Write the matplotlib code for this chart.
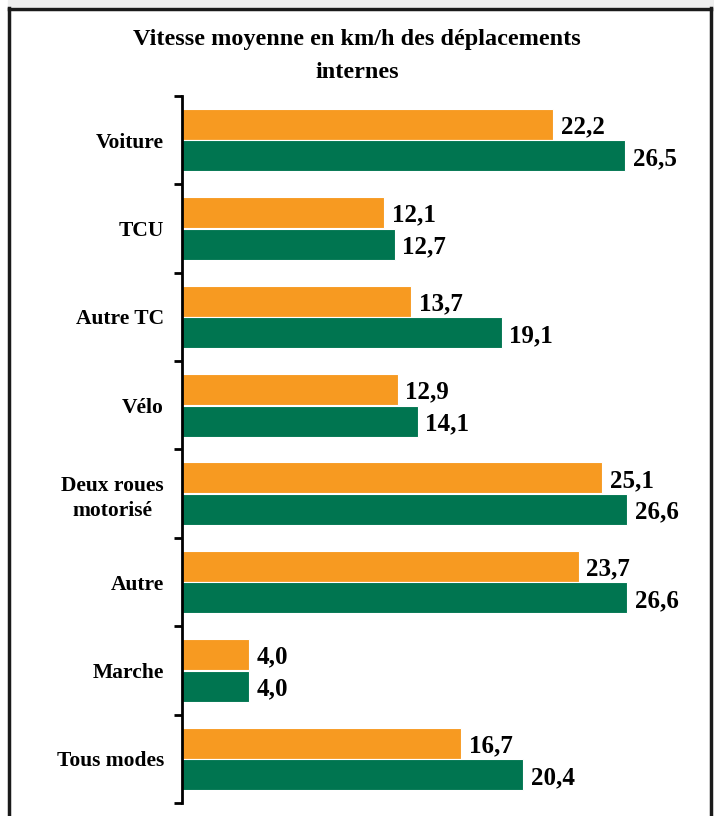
import numpy as np
import matplotlib.pyplot as plt
from matplotlib.lines import Line2D
from matplotlib.patches import Rectangle

categories = ['Voiture', 'TCU', 'Autre TC', 'Vélo', 'Deux roues\nmotorisé',
              'Autre', 'Marche', 'Tous modes']
serie_orange = [22.2, 12.1, 13.7, 12.9, 25.1, 23.7, 4.0, 16.7]
serie_verte = [26.5, 12.7, 19.1, 14.1, 26.6, 26.6, 4.0, 20.4]
titre = 'Vitesse moyenne en km/h des déplacements\ninternes'

orange = '#F79A21'
vert = '#007550'
police = 'Liberation Serif'

W, H = 714, 816
fig = plt.figure(figsize=(W / 100, H / 100), dpi=100)

# axes placed in pixel terms
x0, x1 = 182, 684
y_top, y_bot = 96, 803
ax = fig.add_axes([x0 / W, 1 - y_bot / H, (x1 - x0) / W, (y_bot - y_top) / H])

y = np.arange(len(categories))
h = 0.35
ax.barh(y - 0.178, serie_orange, height=h, color=orange, edgecolor='white', linewidth=0.8)
ax.barh(y + 0.178, serie_verte, height=h, color=vert, edgecolor='white', linewidth=0.8)

fmt = lambda v: f'{v:.1f}'.replace('.', ',')
for i in range(len(categories)):
    ax.text(serie_orange[i] + 0.45, y[i] - 0.15, fmt(serie_orange[i]), va='center', ha='left',
            fontsize=18, fontweight='bold', family=police)
    ax.text(serie_verte[i] + 0.45, y[i] + 0.21, fmt(serie_verte[i]), va='center', ha='left',
            fontsize=18, fontweight='bold', family=police)

ax.set_xlim(0, 30)
ax.set_ylim(len(categories) - 0.5, -0.5)
ax.set_xticks([])
ax.set_yticks(y)
ax.set_yticklabels(categories, fontsize=15.5, fontweight='bold', family=police,
                   multialignment='center', linespacing=1.3)
ax.set_yticks(np.arange(-0.5, len(categories), 1), minor=True)
ax.tick_params(axis='y', which='major', length=0, pad=13)
ax.tick_params(axis='y', which='minor', length=6, width=2, direction='out')
for s in ['top', 'right', 'bottom']:
    ax.spines[s].set_visible(False)
ax.spines['left'].set_linewidth(2)

fig.text(0.5, 1 - 56 / H, titre, ha='center', va='center', fontsize=17.5,
         fontweight='bold', family=police, linespacing=1.75)

# cadre
fig.add_artist(Rectangle((8 / W, 1 - 6 / H), 1, 6 / H, transform=fig.transFigure,
                         color='#EEEEEE', zorder=0))
lc = '#1a1a1a'
fig.add_artist(Line2D([9 / W, 9 / W], [0, 1 - 8 / H], color=lc, lw=2.5))
fig.add_artist(Line2D([711 / W, 711 / W], [0, 1 - 8 / H], color=lc, lw=2.5))
fig.add_artist(Line2D([9 / W, 711 / W], [1 - 8.5 / H, 1 - 8.5 / H], color=lc, lw=2.5))

fig.savefig('out.png', dpi=100)
